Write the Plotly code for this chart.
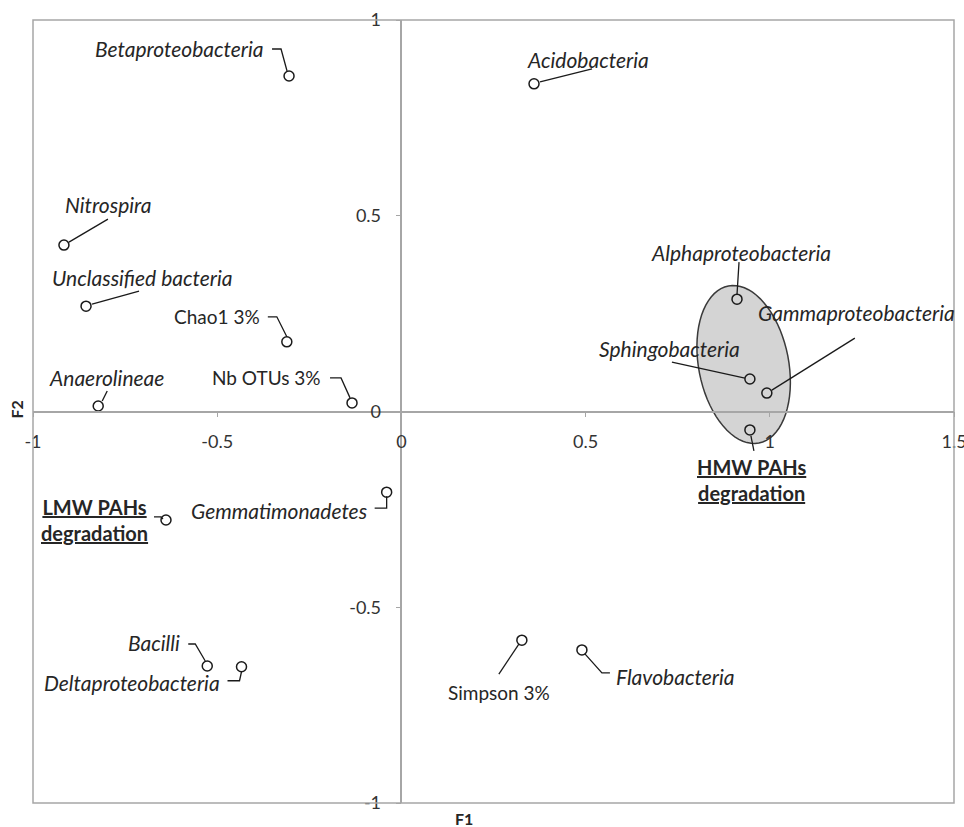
import numpy as np
import plotly.graph_objects as go

# ---- data ----
names = ["Betaproteobacteria", "Acidobacteria", "Nitrospira", "Unclassified bacteria",
         "Chao1 3%", "Anaerolineae", "Nb OTUs 3%", "Alphaproteobacteria",
         "Sphingobacteria", "Gammaproteobacteria", "HMW PAHs degradation",
         "LMW PAHs degradation", "Gemmatimonadetes", "Bacilli",
         "Deltaproteobacteria", "Simpson 3%", "Flavobacteria"]
F1 = [-0.305, 0.360, -0.916, -0.856, -0.311, -0.823, -0.134, 0.911, 0.946, 0.992,
      0.946, -0.639, -0.040, -0.527, -0.434, 0.327, 0.490]
F2 = [0.857, 0.837, 0.425, 0.269, 0.178, 0.014, 0.022, 0.287, 0.083, 0.047,
      -0.047, -0.277, -0.206, -0.650, -0.652, -0.584, -0.609]
label_text = ["Betaproteobacteria", "Acidobacteria", "Nitrospira", "Unclassified bacteria",
              "Chao1 3%", "Anaerolineae", "Nb OTUs 3%", "Alphaproteobacteria",
              "Sphingobacteria", "Gammaproteobacteria", "HMW PAHs<br>degradation",
              "LMW PAHs<br>degradation", "Gemmatimonadetes", "Bacilli",
              "Deltaproteobacteria", "Simpson 3%", "Flavobacteria"]
kind = ["i", "i", "i", "i", "r", "i", "r", "i", "i", "i", "b", "b", "i", "i", "i", "r", "i"]

x_ticks = [-1, -0.5, 0, 0.5, 1, 1.5]
y_ticks = [-1, -0.5, 0, 0.5, 1]

# ---- label placement (screen pixel offsets from the point: dx, dy down) ----
label_pos = [(-23, -27, "right"), (-9, -24, "left"), (-1, -41, "left"), (-36, -29, "left"),
             (-25, -25, "right"), (-51, -29, "left"), (-29, -25, "right"), (4, -47, "center"),
             (-8, -31, "right"), (-11, -81, "left"), (2, 50, "center"),
             (-71, 0, "center"), (-18, 18, "right"), (-25, -23, "right"),
             (-20, 16, "right"), (-23, 52, "center"), (32, 27, "left")]
leaders = [[(-17, -27), (-8, -27), (-2, -5)],
           [(6, -2), (58, -15)],
           [(5, -3), (44, -26)],
           [(6, -2), (53, -15)],
           [(-19, -25), (-10, -25), (0, -5)],
           [(4, -5), (9, -15)],
           [(-22, -25), (-11, -25), (-2, -5)],
           [(0, -5), (2, -37)],
           [(-5, -1), (-78, -17)],
           [(5, -3), (88, -55)],
           [(1, 6), (4, 21)],
           [(-12, -3), (-5, -3), (-3, -1)],
           [(0, 4), (0, 16), (-12, 16)],
           [(-19, -22), (-12, -22), (-2, -5)],
           [(0, 5), (-2, 14), (-14, 14)],
           [(-3, 4), (-23, 34)],
           [(3, 4), (20, 23), (28, 23)]]

ell_center = (0.929, 0.120)
ell_a, ell_b, ell_tilt = 80, 45, np.deg2rad(11)

FONT = "Lato"
TXT = "#262626"
GRAY = "#a6a6a6"
SIZES = {"i": 21, "r": 19, "b": 20}

fig = go.Figure()
fig.add_trace(go.Scatter(
    x=F1, y=F2, mode="markers", text=names, hoverinfo="text",
    marker=dict(symbol="circle-open", size=10, color="#1a1a1a", line=dict(width=1.5)),
    showlegend=False, cliponaxis=False))

shapes = []
# ellipse (pixel-sized, anchored at data center)
t = np.linspace(0, 2 * np.pi, 73)
ex = ell_b * np.cos(t) * np.cos(ell_tilt) - ell_a * np.sin(t) * np.sin(ell_tilt)
ey = ell_b * np.cos(t) * np.sin(ell_tilt) + ell_a * np.sin(t) * np.cos(ell_tilt)
ep = "M " + " L ".join(f"{a:.2f},{b:.2f}" for a, b in zip(ex, ey)) + " Z"
shapes.append(dict(type="path", xref="x", yref="y", xsizemode="pixel", ysizemode="pixel",
                   xanchor=ell_center[0], yanchor=ell_center[1], path=ep,
                   fillcolor="#d4d4d4", line=dict(color="#3a3a3a", width=1.5), layer="below"))
# frame
shapes.append(dict(type="rect", xref="paper", yref="paper", x0=0, x1=1, y0=0, y1=1,
                   line=dict(color=GRAY, width=1.5)))
# leaders
for xv, yv, pts in zip(F1, F2, leaders):
    p = "M " + " L ".join(f"{dx},{-dy}" for dx, dy in pts)
    shapes.append(dict(type="path", xref="x", yref="y", xsizemode="pixel", ysizemode="pixel",
                       xanchor=xv, yanchor=yv, path=p,
                       line=dict(color="#1a1a1a", width=1.3)))

annotations = []
for xv, yv, txt, k, (dx, dy, anc) in zip(F1, F2, label_text, kind, label_pos):
    f = dict(family=FONT, size=SIZES[k], color=TXT)
    if k == "i":
        f["style"] = "italic"
    elif k == "b":
        f["weight"] = "bold"
        f["lineposition"] = "under"
    annotations.append(dict(x=xv, y=yv, xref="x", yref="y", text=txt, showarrow=False,
                            xshift=dx, yshift=-dy, xanchor=anc, yanchor="middle",
                            align="center", font=f))
annotations.append(dict(x=0.468, y=0, xref="paper", yref="paper", text="<b>F1</b>",
                        showarrow=False, yanchor="top", yshift=-4,
                        font=dict(family=FONT, size=16, color=TXT)))
annotations.append(dict(x=0, y=0.502, xref="paper", yref="paper", text="<b>F2</b>",
                        showarrow=False, xanchor="right", xshift=-5, textangle=-90,
                        font=dict(family=FONT, size=16, color=TXT)))

fig.update_layout(
    width=964, height=827, margin=dict(l=33, r=10, t=20, b=24, autoexpand=False),
    plot_bgcolor="white", paper_bgcolor="white",
    shapes=shapes, annotations=annotations,
    xaxis=dict(range=[-1, 1.5], tickvals=x_ticks, ticktext=[f"{v:g}" for v in x_ticks],
               showgrid=False, zeroline=False, showline=True, linecolor=GRAY, linewidth=1.5,
               anchor="free", position=0.5, side="bottom", ticks="outside", ticklen=5,
               tickcolor=GRAY, ticklabelstandoff=9, automargin=False,
               ticklabeloverflow="allow",
               tickfont=dict(family=FONT, size=18, color="#333333")),
    yaxis=dict(range=[-1, 1], tickvals=y_ticks, ticktext=[f"{v:g}" for v in y_ticks],
               showgrid=False, zeroline=False, showline=True, linecolor=GRAY, linewidth=1.5,
               anchor="free", position=0.4, side="left", ticks="outside", ticklen=5,
               tickcolor=GRAY, ticklabelstandoff=11, automargin=False,
               ticklabeloverflow="allow",
               tickfont=dict(family=FONT, size=18, color="#333333")),
)
fig.write_html("out.html", config={"displayModeBar": False},
               post_script="document.body.style.margin='0';document.body.style.overflow='hidden';")
